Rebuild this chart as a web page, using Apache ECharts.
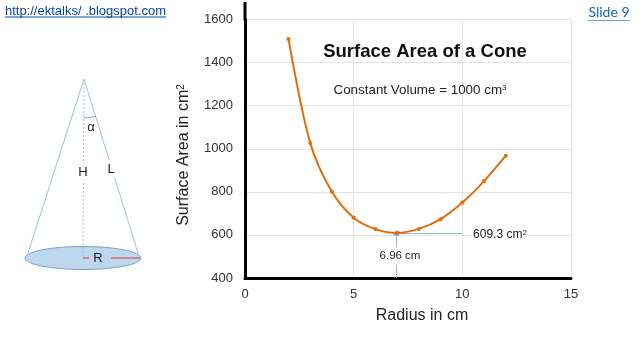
<!DOCTYPE html>
<html>
<head>
<meta charset="utf-8">
<style>
  html, body { margin: 0; padding: 0; background: #fff; }
  #chart { width: 640px; height: 360px; }
</style>
<script src="https://cdn.jsdelivr.net/npm/echarts@6/dist/echarts.min.js"></script>
</head>
<body>
<div id="chart"></div>
<script>
const radius = [2, 3, 4, 5, 6, 7, 8, 9, 10, 11, 12];
const surfaceArea = [1510, 1027, 800, 680, 627, 609, 628, 673, 750, 850, 968];
const minRadius = 6.96;
const minArea = 609.3;

const font = '"Liberation Sans", Arial, sans-serif';
const orange = '#e36c0a';
const arrowBlue = '#8fb4d9';
const coneBlue = '#9dbfdf';

const sup = { fontSize: 8, verticalAlign: 'top', padding: [0, 0, 5, 0], fontFamily: font, fill: '#222' };

function text(x, y, str, fontSize, extra) {
  return {
    type: 'text',
    x, y,
    z: 20,
    style: Object.assign({ text: str, fontSize, fontFamily: font, fill: '#222', align: 'center', verticalAlign: 'middle' }, extra),
  };
}
function line(x1, y1, x2, y2, stroke, lineWidth, lineDash) {
  return { type: 'line', z: 10, shape: { x1, y1, x2, y2 }, style: { stroke, lineWidth, lineDash } };
}

const option = {
  animation: false,
  backgroundColor: '#fff',
  grid: { left: 245, right: 69, top: 19.5, bottom: 82 },
  xAxis: {
    type: 'value',
    min: 0,
    max: 15,
    interval: 5,
    axisLine: { onZero: false, lineStyle: { color: '#000', width: 3 } },
    axisTick: { show: false },
    axisLabel: { fontFamily: font, fontSize: 13, color: '#333', margin: 10, formatter: (v) => String(v) },
    splitLine: { lineStyle: { color: '#e4e4e4', width: 1 } },
  },
  yAxis: {
    type: 'value',
    min: 400,
    max: 1600,
    interval: 200,
    axisLine: { show: true, lineStyle: { color: '#000', width: 3 } },
    axisTick: { show: false },
    axisLabel: { fontFamily: font, fontSize: 13, fontWeight: 500, color: '#333', margin: 12, formatter: (v) => String(v) },
    splitLine: { lineStyle: { color: '#e4e4e4', width: 1 } },
  },
  series: [
    {
      type: 'line',
      data: radius.map((r, i) => [r, surfaceArea[i]]),
      smooth: 0.3,
      symbol: 'circle',
      symbolSize: 4,
      itemStyle: { color: orange },
      lineStyle: { color: orange, width: 2 },
      z: 5,
      markLine: {
        silent: true,
        symbol: ['none', 'triangle'],
        symbolSize: 6,
        lineStyle: { color: arrowBlue, width: 1, type: 'solid' },
        label: { show: false },
        data: [
          [{ coord: [minRadius, 400] }, { coord: [minRadius, minArea] }],
          [{ coord: [10, minArea] }, { coord: [minRadius, minArea] }],
        ],
      },
    },
  ],
  graphic: [
    // top of the y axis runs past the last tick
    line(245, 2, 245, 20, '#000', 3),

    // links
    text(85.5, 11, 'http://ektalks/ .blogspot.com', 13, { fill: '#0645ad' }),
    line(5, 17, 166, 17, '#0645ad', 1),
    text(609, 12, 'Slide 9', 14, { fill: '#1565b5', fontFamily: 'Lato, sans-serif' }),
    line(588, 20.5, 630, 20.5, '#6ea6cc', 1),

    // chart texts
    text(425, 52, 'Surface Area of a Cone', 18.5, { fontWeight: 'bold', fill: '#111' }),
    text(420, 90, '{a|Constant Volume = 1000 cm}{s|3}', 13, {
      rich: { a: { fontSize: 13.4, fontFamily: font, fill: '#222' }, s: sup },
    }),
    text(400, 256, '6.96 cm', 11.5, { backgroundColor: '#fff', padding: [3, 2] }),
    text(500, 235, '{a|609.3 cm}{s|2}', 12, {
      backgroundColor: '#fff',
      padding: [2, 2],
      rich: { a: { fontSize: 12, fontFamily: font, fill: '#222' }, s: sup },
    }),
    text(422, 316, 'Radius in cm', 16),
    {
      type: 'text',
      x: 184,
      y: 155,
      rotation: Math.PI / 2,
      z: 20,
      style: {
        text: '{a|Surface Area in cm}{s|2}',
        align: 'center',
        verticalAlign: 'middle',
        rich: { a: { fontSize: 16, fontFamily: font, fill: '#222' }, s: { fontSize: 10, fontFamily: font, fill: '#222', verticalAlign: 'top', padding: [0, 0, 6, 0] } },
      },
    },

    // cone
    {
      type: 'ellipse',
      z: 9,
      shape: { cx: 83, cy: 258, rx: 58, ry: 11.5 },
      style: { fill: '#bdd7ee', stroke: '#7f9fc0', lineWidth: 1 },
    },
    line(84, 79, 28, 253, coneBlue, 1),
    line(84, 79, 138, 253, coneBlue, 1),
    line(84, 79, 83, 258, coneBlue, 1, [2, 2]),
    {
      type: 'arc',
      z: 10,
      shape: { cx: 84, cy: 79, r: 39, startAngle: Math.PI * 0.4, endAngle: Math.PI * 0.5 },
      style: { stroke: '#7f9fc0', lineWidth: 1, fill: 'none' },
    },
    line(83, 258, 89, 258, '#e03030', 1),
    line(111, 258, 140, 258, '#e03030', 1),
    text(91, 127, 'α', 13),
    text(83, 172, 'H', 13, { backgroundColor: '#fff', padding: [2, 1] }),
    text(111, 169, 'L', 13, { backgroundColor: '#fff', padding: [2, 1] }),
    text(98, 258, 'R', 13, { fill: '#222' }),
  ],
};

const chart = echarts.init(document.getElementById('chart'), null, { renderer: 'canvas' });
chart.setOption(option);
</script>
</body>
</html>
